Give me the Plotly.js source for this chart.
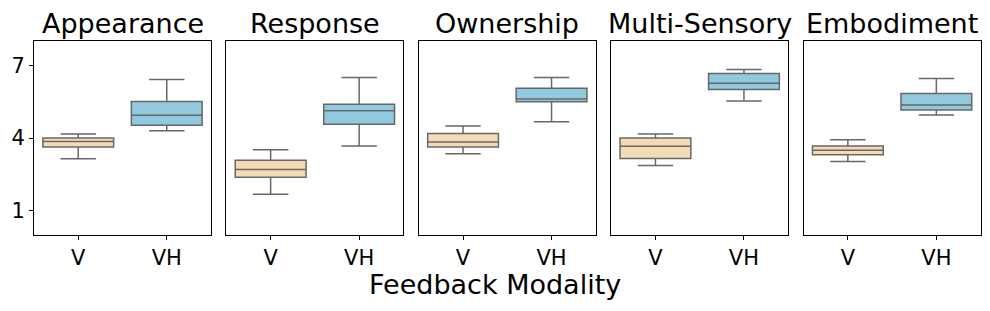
<!DOCTYPE html>
<html>
<head>
<meta charset="utf-8">
<script src="https://cdn.plot.ly/plotly-3.0.1.min.js"></script>
<style>html,body{margin:0;padding:0;background:#fff;}#chart{width:990px;height:311px;}</style>
</head>
<body>
<div id="chart"></div>
<script>
const panels = ["Appearance", "Response", "Ownership", "Multi-Sensory", "Embodiment"];
const categories = ["V", "VH"];
// per panel: [V, VH]
const lowerWhisker = [[3.14, 4.30], [1.68, 3.67], [3.35, 4.67], [2.87, 5.53], [3.03, 4.95]];
const q1Values     = [[3.63, 4.53], [2.38, 4.57], [3.63, 5.49], [3.15, 6.00], [3.31, 5.15]];
const medianValues = [[3.86, 4.94], [2.70, 5.12], [3.84, 5.61], [3.66, 6.26], [3.49, 5.36]];
const q3Values     = [[4.00, 5.51], [3.08, 5.39], [4.19, 6.05], [4.00, 6.66], [3.67, 5.84]];
const upperWhisker = [[4.16, 6.41], [3.52, 6.50], [4.49, 6.50], [4.16, 6.82], [3.93, 6.45]];
const yTicks = [1, 4, 7];
const xTitle = "Feedback Modality";

const fills = ["#F5DBB5", "#91C9DF"];
const lineColor = "#686868";

const data = [];
const layout = {
  width: 990, height: 311,
  margin: {l: 34, r: 9, t: 41, b: 76},
  paper_bgcolor: "#fff", plot_bgcolor: "#fff",
  showlegend: false,
  font: {family: "DejaVu Sans", size: 16, color: "#000"},
  annotations: []
};
const plotW = 990 - 34 - 9;
const plotH = 311 - 41 - 76;
const panelW = 177, step = 192.4;
panels.forEach((name, p) => {
  const sfx = p === 0 ? "" : String(p + 1);
  categories.forEach((c, i) => {
    data.push({
      type: "box",
      x: [c],
      q1: [q1Values[p][i]],
      median: [medianValues[p][i]],
      q3: [q3Values[p][i]],
      lowerfence: [lowerWhisker[p][i]],
      upperfence: [upperWhisker[p][i]],
      width: 0.8,
      whiskerwidth: 0.5,
      fillcolor: fills[i],
      line: {color: lineColor, width: 1.5},
      boxpoints: false,
      hoverinfo: "skip",
      xaxis: "x" + sfx,
      yaxis: "y" + sfx
    });
  });
  const x0 = (p * step) / plotW, x1 = (p * step + panelW) / plotW;
  layout["xaxis" + sfx] = {
    domain: [x0, Math.min(x1, 1)],
    type: "category",
    categoryarray: categories,
    range: [-0.5, 1.5],
    showgrid: false, zeroline: false,
    showline: true, mirror: true, linecolor: "#000", linewidth: 1,
    ticks: "outside", ticklen: 4, tickcolor: "#000",
    tickfont: {family: "DejaVu Sans", size: 21, color: "#000"},
    fixedrange: true,
    anchor: "y" + sfx
  };
  layout["yaxis" + sfx] = {
    range: [0, 8],
    tickvals: yTicks,
    ticktext: yTicks.map(String),
    showticklabels: p === 0,
    ticks: p === 0 ? "outside" : "",
    ticklen: 4, tickcolor: "#000",
    showgrid: false, zeroline: false,
    showline: true, mirror: true, linecolor: "#000", linewidth: 1,
    tickfont: {family: "DejaVu Sans", size: 21, color: "#000"},
    fixedrange: true,
    anchor: "x" + sfx
  };
  layout.annotations.push({
    text: name,
    xref: "paper", yref: "paper",
    x: (x0 + x1) / 2, y: (235 - 23) / plotH,
    xanchor: "center", yanchor: "middle",
    showarrow: false,
    font: {family: "DejaVu Sans", size: 27, color: "#000"}
  });
});
layout.annotations.push({
  text: xTitle,
  xref: "paper", yref: "paper",
  x: (495 - 34) / plotW, y: (235 - 284) / plotH,
  xanchor: "center", yanchor: "middle",
  showarrow: false,
  font: {family: "DejaVu Sans", size: 27, color: "#000"}
});
Plotly.newPlot("chart", data, layout, {displayModeBar: false, staticPlot: true});
</script>
</body>
</html>
